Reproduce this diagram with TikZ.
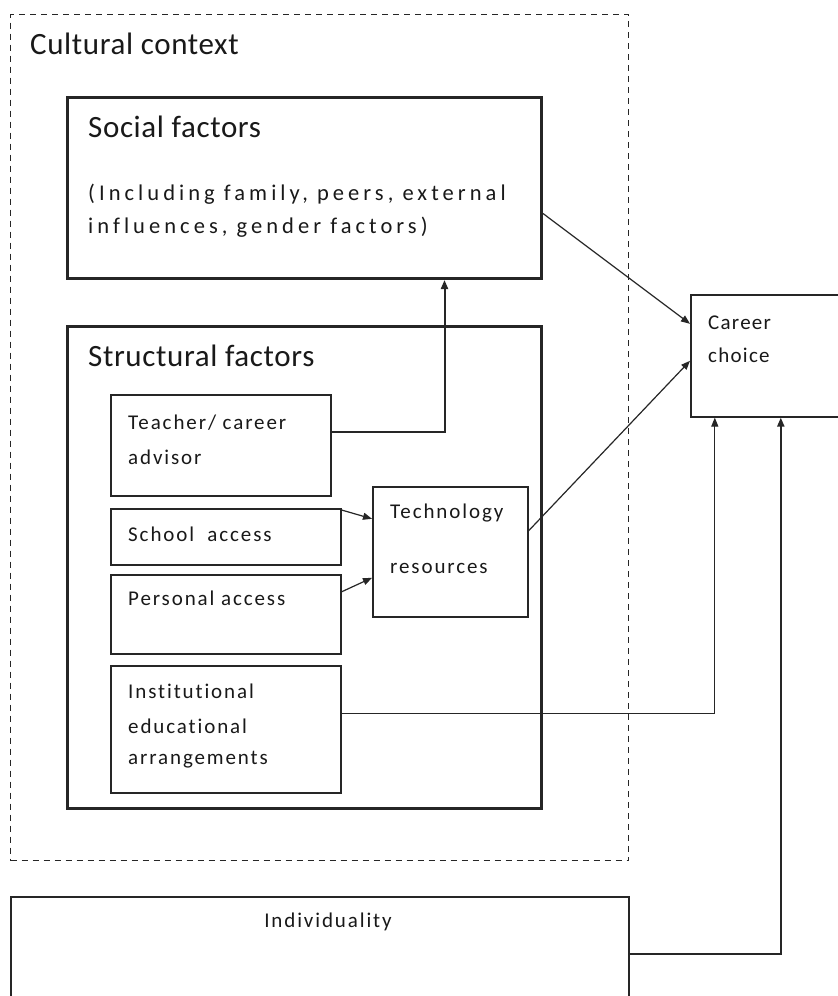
\documentclass[tikz,border=0pt]{standalone}
\usepackage{fontspec}
\setmainfont{Carlito}
\newfontfamily\subfnt[LetterSpace=18,Ligatures=CommonOff]{Carlito}
\newfontfamily\inbfnt[LetterSpace=9,Ligatures=CommonOff]{Carlito}
\newfontfamily\carfnt[LetterSpace=6,Ligatures=CommonOff]{Carlito}
\newfontfamily\bigfnt[LetterSpace=2,Ligatures=CommonOff]{Carlito}
\usetikzlibrary{arrows.meta}
\begin{document}
\begin{tikzpicture}[x=1pt,y=-1pt,
  thickbox/.style={draw=black!85,line width=3pt,anchor=north west,inner sep=0pt},
  thinbox/.style={draw=black!85,line width=1.6pt,anchor=north west,inner sep=0pt},
  dashbox/.style={draw=black!85,line width=1.2pt,dash pattern=on 6pt off 5pt,anchor=north west,inner sep=0pt},
  lbl/.style={anchor=west,inner sep=0pt,text=black!90},
  big/.style={lbl,font=\bigfnt\fontsize{31}{36}\selectfont},
  sub/.style={lbl,font=\subfnt\fontsize{22.5}{26}\selectfont},
  mid/.style={lbl,font=\inbfnt\fontsize{21}{25}\selectfont},
  car/.style={lbl,font=\carfnt\fontsize{21}{25}\selectfont},
  arr/.style={draw=black!85,line width=1.2pt,-{Triangle[length=9pt,width=7pt]}},
  arrthick/.style={draw=black!85,line width=2pt,-{Triangle[length=9pt,width=7pt]}}]
\useasboundingbox (0,0) rectangle (838,996);
\fill[white] (0,0) rectangle (838,996);
% boxes
\node[dashbox,minimum width=618pt,minimum height=846pt] (cult) at (10,14) {};
\node[thickbox,minimum width=474pt,minimum height=181pt] (social) at (66,96) {};
\node[thickbox,minimum width=474pt,minimum height=482pt] (struct) at (66,325) {};
\node[thinbox,minimum width=220pt,minimum height=101pt] (teacher) at (110,394) {};
\node[thinbox,minimum width=230pt,minimum height=56pt] (school) at (110,508) {};
\node[thinbox,minimum width=230pt,minimum height=79pt] (personal) at (110,574) {};
\node[thinbox,minimum width=230pt,minimum height=127pt] (inst) at (110,665) {};
\node[thinbox,minimum width=155pt,minimum height=130pt] (tech) at (372,486) {};
\node[thinbox,minimum width=155pt,minimum height=122pt] (career) at (690,294) {};
\node[thinbox,minimum width=618pt,minimum height=114pt] (indiv) at (10,896) {};
% texts
\node[big] (tcult) at (30,44) {Cultural context};
\node[big] (tsocial) at (88,127) {Social factors};
\node[sub] (tsoc1) at (88,194) {(Including family, peers, external};
\node[sub] (tsoc2) at (88,227) {influences, gender factors)};
\node[big] (tstruct) at (88,356) {Structural factors};
\node[mid] (tteach1) at (128,423) {Teacher/ career};
\node[mid] (tteach2) at (128,457) {advisor};
\node[mid] (tschool) at (128,534) {School\ \ access};
\node[mid] (tpers) at (128,598) {Personal access};
\node[mid] (tinst1) at (128,691) {Institutional};
\node[mid] (tinst2) at (128,726) {educational};
\node[mid] (tinst3) at (128,760) {arrangements};
\node[mid] (ttech1) at (390,513) {Technology};
\node[mid] (ttech2) at (390,568) {resources};
\node[car] (tcar1) at (708,323) {Career};
\node[car] (tcar2) at (708,355) {choice};
\node[anchor=center,inner sep=0pt,font=\inbfnt\fontsize{21}{25}\selectfont,text=black!90] (tind) at (328,922) {Individuality};
% connectors
\draw[arr] ([yshift=-25.5pt]social.east) -- ([yshift=32pt]career.west);
\draw[arr] ([yshift=21pt]tech.east) -- ([yshift=-5pt]career.west);
\draw[arrthick] ([yshift=13.5pt]teacher.east) -| ([xshift=140pt]social.south);
\draw[arr] ([yshift=-2pt]school.north east) -- ([yshift=33pt]tech.west);
\draw[arr] ([yshift=22.5pt]personal.east) -- ([yshift=-26pt]tech.west);
\draw[arr] ([yshift=15.5pt]inst.east) -| ([xshift=-53.5pt]career.south);
\draw[arrthick] (indiv.east) -| ([xshift=12.5pt]career.south);
\end{tikzpicture}
\end{document}
